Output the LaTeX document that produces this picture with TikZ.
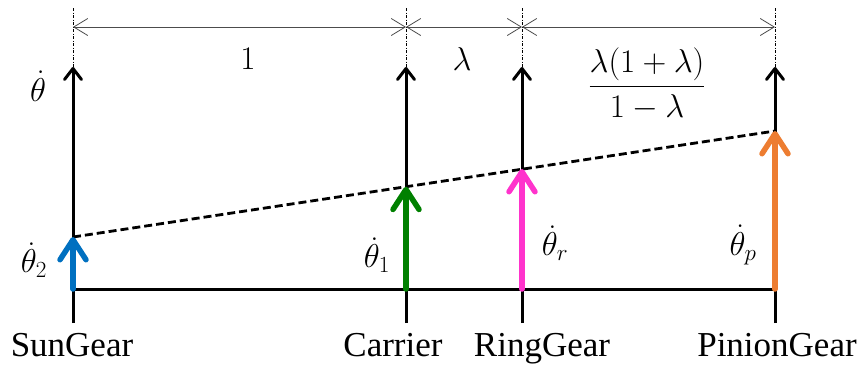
\RequirePackage{fix-cm}
\documentclass[tikz,border=0pt]{standalone}
\usepackage{fontspec}
\setmainfont{Liberation Serif}
\usetikzlibrary{arrows.meta}
\definecolor{cblue}{HTML}{0070C0}
\definecolor{cgreen}{HTML}{008000}
\definecolor{cpink}{HTML}{FF33CC}
\definecolor{corange}{HTML}{ED7D31}
\begin{document}
\begin{tikzpicture}[x=1pt,y=-1pt,
  axisline/.style={line width=3pt, -{Straight Barb[length=11pt,width=17pt,round]}},
  vel/.style={line width=5.5pt, line cap=round, -{Straight Barb[length=20pt,width=26pt,round]}},
  dimline/.style={line width=0.8pt, draw=black!70, {Straight Barb[length=14pt,width=17pt]}-{Straight Barb[length=14pt,width=17pt]}},
  guide/.style={line width=0.8pt, dash pattern=on 3pt off 1.5pt on 1pt off 1.5pt},
  lbl/.style={font=\fontsize{35}{40}\selectfont, anchor=base, inner sep=0pt},
  mlbl/.style={font=\fontsize{33}{39}\selectfont, inner sep=0pt},
]
\useasboundingbox (0,0) rectangle (867,365);
% coordinates
\foreach \n/\x in {s/73, c/406, r/522, p/775}{
  \coordinate (\n dim) at (\x,8);
  \coordinate (\n top) at (\x,67);
  \coordinate (\n base) at (\x,289);
  \coordinate (\n bot) at (\x,323);
  \coordinate (\n d) at (\x,27);
}
\coordinate (sv) at (73,237);
\coordinate (cv) at (406,186.7);
\coordinate (rv) at (522,169);
\coordinate (pv) at (775,131);

% guide lines
\foreach \n in {s,c,r,p}{ \draw[guide] (\n dim) -- (\n top); }
% dimension lines
\draw[dimline] (sd) -- (cd);
\draw[dimline] (cd) -- (rd);
\draw[dimline] (rd) -- (pd);

% axes
\draw[line width=3pt] (sbase) -- (pbase);
\foreach \n in {s,c,r,p}{ \draw[axisline] (\n bot) -- (\n top); }

% dashed line
\draw[line width=2.8pt, dash pattern=on 8pt off 4pt] (sv) -- (pv);

% velocity arrows
\draw[vel, cblue] (sbase) -- (sv);
\draw[vel, cgreen] (cbase) -- (cv);
\draw[vel, cpink] (rbase) -- (rv);
\draw[vel, corange] (pbase) -- (pv);

% labels
\node[mlbl] (lth) at (38,86) {$\dot\theta$};
\node[mlbl] (l2) at (34,260) {$\dot\theta_2$};
\node[mlbl] (l1) at (377,255) {$\dot\theta_1$};
\node[mlbl] (lr) at (555,243) {$\dot\theta_r$};
\node[mlbl] (lp) at (743,245) {$\dot\theta_p$};
\node[mlbl] (one) at (248,59) {$1$};
\node[mlbl] (lam) at (462,59) {$\lambda$};
\node[mlbl] (frac) at (647,84) {$\displaystyle\frac{\lambda(1+\lambda)}{1-\lambda}$};

\node[lbl] (sun) at (72,356) {SunGear};
\node[lbl] (car) at (393,356) {Carrier};
\node[lbl] (ring) at (542,356) {RingGear};
\node[lbl] (pin) at (777,356) {PinionGear};
\end{tikzpicture}
\end{document}
